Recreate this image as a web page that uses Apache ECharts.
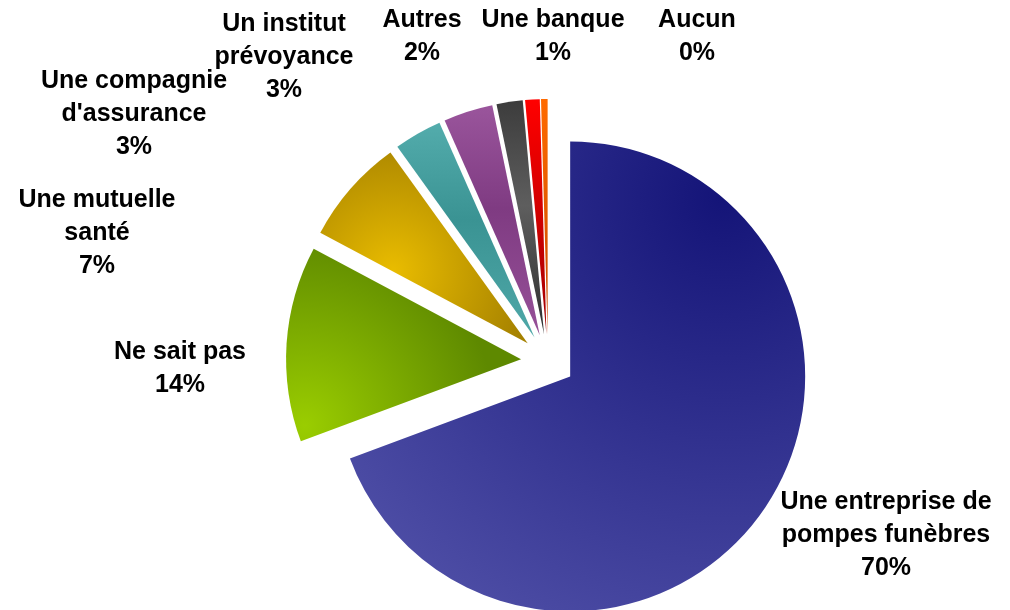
<!DOCTYPE html>
<html>
<head>
<meta charset="utf-8">
<script src="https://cdn.jsdelivr.net/npm/echarts@6/dist/echarts.min.js"></script>
<style>
  html, body { margin: 0; padding: 0; background: #ffffff; }
  #chart { width: 1010px; height: 610px; }
</style>
</head>
<body>
<div id="chart"></div>
<script>
// Slice names (line breaks as shown in the labels)
const categories = [
  'Une entreprise de\npompes funèbres',
  'Ne sait pas',
  'Une mutuelle\nsanté',
  "Une compagnie\nd'assurance",
  'Un institut\nprévoyance',
  'Autres',
  'Une banque',
  'Aucun'
];

// Share of answers, in percent
const shares = [69.5, 13.5, 7.3, 3.3, 3.4, 1.8, 1.0, 0.45];

// Label anchor points (centre of each text block)
const labelCenters = [
  [886, 535], [180, 369], [97, 233], [134, 114],
  [284, 57], [422, 37], [553, 37], [697, 37]
];

const G = echarts.graphic;
const fills = [
  new G.RadialGradient(0.82, 0.12, 1.15, [
    { offset: 0, color: '#141478' }, { offset: 1, color: '#5252a9' }
  ]),
  new G.RadialGradient(0.08, 0.92, 1.0, [
    { offset: 0, color: '#9acd00' }, { offset: 1, color: '#5e8900' }
  ]),
  new G.RadialGradient(0.35, 0.62, 0.75, [
    { offset: 0, color: '#e9bc00' }, { offset: 1, color: '#a58100' }
  ]),
  new G.LinearGradient(0, 0, 0, 1, [
    { offset: 0, color: '#53acac' }, { offset: 0.45, color: '#3a9393' }, { offset: 1, color: '#4fa8a8' }
  ]),
  new G.LinearGradient(0, 0, 0, 1, [
    { offset: 0, color: '#9a559c' }, { offset: 0.45, color: '#7f3b82' }, { offset: 1, color: '#965098' }
  ]),
  new G.LinearGradient(0, 0, 0, 1, [
    { offset: 0, color: '#3c3c3c' }, { offset: 0.45, color: '#5e5e5e' }, { offset: 1, color: '#2e2e2e' }
  ]),
  new G.LinearGradient(0, 0, 0, 1, [
    { offset: 0, color: '#ff0000' }, { offset: 1, color: '#a00000' }
  ]),
  new G.LinearGradient(0, 0, 0, 1, [
    { offset: 0, color: '#ff6a00' }, { offset: 1, color: '#c64800' }
  ])
];

const labelFont = 'bold 25px "Liberation Sans", Arial, sans-serif';

// Category labels: name plus rounded share, each centred on its anchor
const labelTexts = categories.map((name, i) => ({
  type: 'text',
  silent: true,
  style: {
    text: name + '\n' + Math.round(shares[i]) + '%',
    x: labelCenters[i][0],
    y: labelCenters[i][1],
    font: labelFont,
    lineHeight: 33,
    fill: '#000000',
    align: 'center',
    verticalAlign: 'middle'
  }
}));

const chart = echarts.init(document.getElementById('chart'), null, { renderer: 'canvas' });

chart.setOption({
  animation: false,
  backgroundColor: '#ffffff',
  graphic: labelTexts,
  series: [{
    type: 'pie',
    center: [548, 361],
    radius: 235,
    startAngle: 90,
    clockwise: true,
    selectedMode: 'multiple',
    selectedOffset: 27,
    minAngle: 0,
    emphasis: { scale: false },
    label: { show: false },
    labelLine: { show: false },
    data: categories.map((name, i) => ({
      name: name,
      value: shares[i],
      selected: true,
      itemStyle: { color: fills[i] }
    }))
  }]
});
</script>
</body>
</html>
